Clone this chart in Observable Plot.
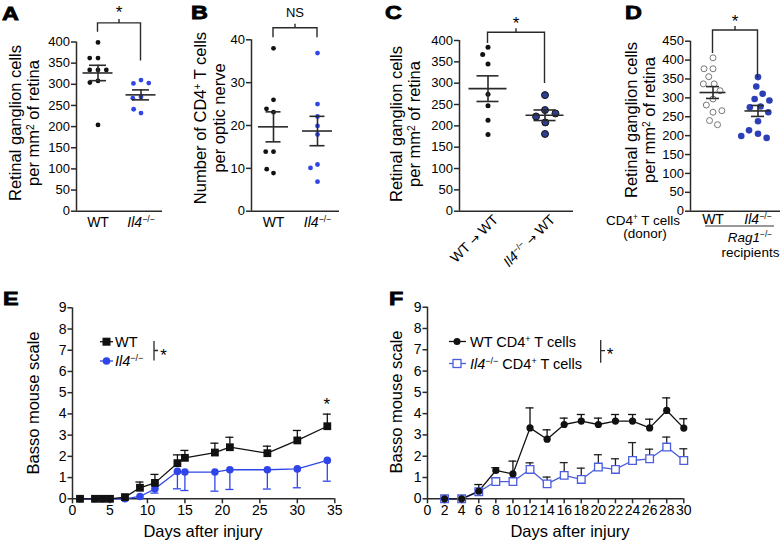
<!DOCTYPE html>
<html><head><meta charset="utf-8">
<script src="https://cdn.jsdelivr.net/npm/d3@7"></script>
<script src="https://cdn.jsdelivr.net/npm/@observablehq/plot@0.6"></script>
<style>
body{margin:0;background:#fff;}
#root{position:relative;width:783px;height:544px;overflow:hidden;font-family:"Liberation Sans",Arial,Helvetica,sans-serif;}
#root svg{position:absolute;}
</style></head><body><div id="root"></div>
<script>
// ---------- DATA ----------
// Panel A: retinal ganglion cells per mm2
const aGroups = ["WT", "Il4"];
const aLabels = ["WT", "_Il4_^−/−^"];
const aWT = [399, 362, 362, 334, 334, 334, 308, 304, 204];
const aIl4 = [310, 302, 303, 270, 267, 232, 241];
const aTicks = [0, 50, 100, 150, 200, 250, 300, 350, 400];
// Panel B: CD4+ T cells per optic nerve
const bWT = [38, 26, 23.1, 23.9, 13.9, 13.9, 8.9, 9.8];
const bIl4 = [36.9, 25, 22.1, 19.9, 17.9, 10.9, 10.1, 6.9];
const bTicks = [0, 10, 20, 30, 40];
// Panel C: chimeras
const cLabels = ["WT → WT", "_Il4_^−/−^ → WT"];
const cWT = [384, 367, 345, 274, 247, 213, 180];
const cIl4 = [272, 237, 222, 229, 208, 181];
// Panel D: Rag1-/- recipients
const dWT = [406, 377, 377, 356, 337, 337, 319, 297, 281, 262, 266, 240, 229];
const dIl4 = [355, 330, 311, 297, 293, 277, 275, 262, 238, 205, 214, 194, 199];
const dTicks = [0, 50, 100, 150, 200, 250, 300, 350, 400, 450];
// Significance brackets (y values in data units): [leg WT, leg Il4, top]
const aBracket = [423, 355, 444];
const bBracket = [40.5, 40.5, 42.7];
const cBracket = [393, 299, 418];
const dBracket = [417.5, 351.4, 478.3];
// Panel E: Basso mouse scale
const eDays = [1, 3, 4, 5, 7, 9, 11, 14, 15, 19, 21, 26, 30, 34];
const eWT = [0, 0, 0, 0, 0.08, 0.52, 0.75, 1.68, 1.93, 2.18, 2.43, 2.15, 2.75, 3.42];
const eWTsem = [0, 0, 0, 0, 0, 0.27, 0.4, 0.39, 0.35, 0.44, 0.47, 0.33, 0.47, 0.57];
const eIl4 = [0, 0, 0, 0, 0, 0.11, 0.47, 1.29, 1.26, 1.26, 1.37, 1.37, 1.41, 1.81];
const eIl4sem = [0, 0, 0, 0, 0, 0, 0.2, 0.82, 0.87, 0.9, 0.93, 0.91, 0.89, 0.98];
const eXTicks = [0, 5, 10, 15, 20, 25, 30, 35];
const eStarDay = 34;
// Panel F: Basso mouse scale after T cell transfer
const fDays = [2, 4, 6, 8, 10, 12, 14, 16, 18, 20, 22, 24, 26, 28, 30];
const fWT = [0, 0, 0.36, 1.33, 1.17, 3.33, 2.8, 3.49, 3.65, 3.49, 3.65, 3.65, 3.33, 4.15, 3.32];
const fWTsem = [0, 0, 0.31, 0.13, 0.6, 0.94, 0.44, 0.3, 0.31, 0.3, 0.31, 0.31, 0.41, 0.59, 0.44];
const fIl4 = [0, 0, 0.33, 0.81, 0.81, 1.38, 0.7, 1.1, 0.91, 1.49, 1.38, 1.8, 1.88, 2.43, 1.8];
const fIl4sem = [0, 0, 0, 0.15, 0, 0.31, 0.32, 0.6, 0.53, 0.58, 0.5, 0.84, 0.45, 0.47, 0.55];
const fXTicks = [0, 2, 4, 6, 8, 10, 12, 14, 16, 18, 20, 22, 24, 26, 28, 30];
const bassoTicks = [0, 1, 2, 3, 4, 5, 6, 7, 8, 9];

// ---------- HELPERS ----------
const FONT = '"Liberation Sans", Arial, Helvetica, sans-serif';
const AX = "#2a2a2a";
const BLUE = "#2f45e8";
const SVGNS = "http://www.w3.org/2000/svg";
const root = document.getElementById("root");

function rich(svg) {
  svg.querySelectorAll("text, tspan").forEach(el => {
    if (el.children.length) return;
    const s = el.textContent;
    if (!/[_^→]/.test(s)) return;
    el.textContent = "";
    for (const part of s.split(/(_[^_]+_|\^[^^]+\^|→)/)) {
      if (!part) continue;
      const t = document.createElementNS(SVGNS, "tspan");
      if (/^_.+_$/.test(part)) { t.setAttribute("font-style", "italic"); t.textContent = part.slice(1, -1); }
      else if (/^\^.+\^$/.test(part)) { t.setAttribute("baseline-shift", "super"); t.setAttribute("font-size", "62%"); t.textContent = part.slice(1, -1); }
      else if (part === "→") { t.setAttribute("font-family", "DejaVu Sans"); t.setAttribute("font-size", "85%"); t.textContent = part; }
      else t.textContent = part;
      el.appendChild(t);
    }
  });
}
function place(svg, left, top) {
  svg.style.left = left + "px"; svg.style.top = top + "px";
  root.appendChild(svg);
  return svg;
}
const baseStyle = {fontFamily: FONT, fontSize: "13px", color: "#000", background: "none", overflow: "visible"};

function scatterPanel(c) {
  const rows = c.groups.flatMap((g, i) => c.values[i].map(v => ({g, v})));
  const stats = c.groups.map((g, i) => {
    const vs = c.values[i], m = d3.mean(vs), se = d3.deviation(vs) / Math.sqrt(vs.length);
    return {g, mean: m, lo: m - se, hi: m + se};
  });
  const fw = (c.width - c.ml - c.mr) / c.groups.length;
  const mi = (fw - c.meanW) / 2, ci = (fw - c.capW) / 2;
  const plot = Plot.plot({
    width: c.width, height: c.height,
    marginLeft: c.ml, marginRight: c.mr, marginTop: c.mt, marginBottom: c.mb,
    style: baseStyle,
    fx: {domain: c.groups, padding: 0, label: null},
    y: {domain: c.yDomain},
    marks: [
      Plot.ruleY([c.yDomain[0]], {stroke: AX, strokeWidth: 1.5}),
      Plot.ruleX([c.groups[0]], {fx: d => d, x: null, y1: () => c.yDomain[0], y2: () => c.yDomain[1], dx: -fw / 2, stroke: AX, strokeWidth: 1.5}),
      Plot.axisY({ticks: c.yTicks, tickSize: 5, tickPadding: 1.5, fontSize: 13, stroke: AX, strokeWidth: 1.5, label: null}),
      Plot.axisFx({anchor: "bottom", tickSize: 0, tickPadding: c.fxPad, fontSize: 14, tickRotate: c.tickRotate || 0,
        dx: c.fxDx || 0, tickFormat: d => c.labels[c.groups.indexOf(d)], label: null}),
      ...c.groups.map((g, i) => Plot.dot(rows.filter(d => d.g === g),
        Plot.dodgeX({anchor: "middle", padding: c.pad}, {fx: "g", y: "v", r: c.dot[i].r, fill: c.dot[i].fill,
          stroke: c.dot[i].stroke || "none", strokeWidth: c.dot[i].sw || 1}))),
      Plot.tickY(stats, {fx: "g", y: "mean", insetLeft: mi, insetRight: mi, stroke: AX, strokeWidth: 1.6}),
      Plot.tickY(stats, {fx: "g", y: "lo", insetLeft: ci, insetRight: ci, stroke: AX, strokeWidth: 1.6}),
      Plot.tickY(stats, {fx: "g", y: "hi", insetLeft: ci, insetRight: ci, stroke: AX, strokeWidth: 1.6}),
      Plot.ruleX(stats, {fx: "g", x: null, y1: "lo", y2: "hi", stroke: AX, strokeWidth: 1.6})
    ]
  });
  rich(plot);
  place(plot, c.left, c.top);
  return {plot, left: c.left, top: c.top};
}

// ---------- PANELS A-D ----------
const pA = scatterPanel({left: 0, top: 0, width: 170, height: 250, ml: 76, mr: 8, mt: 41.5, mb: 39.3,
  groups: aGroups, labels: aLabels, values: [aWT, aIl4], yDomain: [0, 400], yTicks: aTicks,
  fxPad: 6, pad: 3.5, meanW: 30, capW: 17, dot: [{r: 2.4, fill: "#111"}, {r: 2.4, fill: BLUE}]});
const pB = scatterPanel({left: 190, top: 0, width: 160, height: 250, ml: 61, mr: 11, mt: 39.3, mb: 39.3,
  groups: aGroups, labels: aLabels, values: [bWT, bIl4], yDomain: [0, 40], yTicks: bTicks,
  fxPad: 6, pad: 3, meanW: 30, capW: 15, dot: [{r: 2.4, fill: "#111"}, {r: 2.4, fill: BLUE}]});
const pC = scatterPanel({left: 370, top: 0, width: 210, height: 285, ml: 89, mr: 7, mt: 40, mb: 74.3,
  groups: aGroups, labels: cLabels, values: [cWT, cIl4], yDomain: [0, 400], yTicks: aTicks, tickRotate: -45,
  fxPad: 6, fxDx: 8, pad: 4, meanW: 38, capW: 22, dot: [{r: 2.5, fill: "#111"}, {r: 3.5, fill: "#2e3e8f", stroke: "#111", sw: 1}]});
const pD = scatterPanel({left: 570, top: 0, width: 213, height: 270, ml: 120, mr: 3, mt: 40.7, mb: 59.3,
  groups: aGroups, labels: aLabels, values: [dWT, dIl4], yDomain: [0, 450], yTicks: dTicks,
  fxPad: 3, pad: 3, meanW: 26, capW: 13, dot: [{r: 3, fill: "#fff", stroke: "#777", sw: 1}, {r: 3.3, fill: "#2c3fb6"}]});

// ---------- PANEL E ----------
const eRows = eDays.map((x, i) => ({x, wt: eWT[i], wtHi: eWT[i] + eWTsem[i], il: eIl4[i], ilLo: eIl4[i] - eIl4sem[i], wse: eWTsem[i], ise: eIl4sem[i]}));
const plotE = Plot.plot({
  width: 345, height: 264, marginLeft: 72, marginRight: 10.7, marginTop: 27.3, marginBottom: 45.7,
  style: baseStyle,
  x: {domain: [0, 35]}, y: {domain: [0, 9]},
  marks: [
    Plot.ruleY([0], {stroke: AX, strokeWidth: 1.5}),
    Plot.ruleX([0], {stroke: AX, strokeWidth: 1.5}),
    Plot.axisX({ticks: eXTicks, tickSize: 5, tickPadding: 1, fontSize: 14, stroke: AX, strokeWidth: 1.5, label: null}),
    Plot.axisY({ticks: bassoTicks, tickSize: 4.5, tickPadding: 1.5, fontSize: 14, stroke: AX, strokeWidth: 1.5, label: null}),
    Plot.ruleX(eRows.filter(d => d.ise > 0), {x: "x", y1: "il", y2: "ilLo", stroke: BLUE, strokeWidth: 1.3}),
    Plot.ruleY(eRows.filter(d => d.ise > 0), {x1: "x", x2: "x", y: "ilLo", insetLeft: -4, insetRight: -4, stroke: BLUE, strokeWidth: 1.3}),
    Plot.line(eRows, {x: "x", y: "il", stroke: BLUE, strokeWidth: 1.3}),
    Plot.dot(eRows, {x: "x", y: "il", r: 3.8, fill: BLUE}),
    Plot.ruleX(eRows.filter(d => d.wse > 0), {x: "x", y1: "wt", y2: "wtHi", stroke: "#111", strokeWidth: 1.3}),
    Plot.ruleY(eRows.filter(d => d.wse > 0), {x1: "x", x2: "x", y: "wtHi", insetLeft: -4, insetRight: -4, stroke: "#111", strokeWidth: 1.3}),
    Plot.line(eRows, {x: "x", y: "wt", stroke: "#111", strokeWidth: 1.3}),
    Plot.dot(eRows, {x: "x", y: "wt", symbol: "square", r: 4.4, fill: "#111"})
  ]
});
place(plotE, 0, 280);

// ---------- PANEL F ----------
const FBLUE = "#4b5ce0";
const fRows = fDays.map((x, i) => ({x, wt: fWT[i], wtHi: fWT[i] + fWTsem[i], il: fIl4[i], ilHi: fIl4[i] + fIl4sem[i], wse: fWTsem[i], ise: fIl4sem[i]}));
const plotF = Plot.plot({
  width: 393, height: 264, marginLeft: 37, marginRight: 99.7, marginTop: 26.7, marginBottom: 45.7,
  style: baseStyle,
  x: {domain: [0, 30]}, y: {domain: [0, 9]},
  marks: [
    Plot.ruleY([0], {stroke: AX, strokeWidth: 1.5}),
    Plot.ruleX([0], {stroke: AX, strokeWidth: 1.5}),
    Plot.axisX({ticks: fXTicks, tickSize: 5, tickPadding: 1, fontSize: 14, stroke: AX, strokeWidth: 1.5, label: null}),
    Plot.axisY({ticks: bassoTicks, tickSize: 4.5, tickPadding: 1.5, fontSize: 14, stroke: AX, strokeWidth: 1.5, label: null}),
    Plot.ruleX(fRows.filter(d => d.ise > 0), {x: "x", y1: "il", y2: "ilHi", stroke: "#222", strokeWidth: 1.3}),
    Plot.ruleY(fRows.filter(d => d.ise > 0), {x1: "x", x2: "x", y: "ilHi", insetLeft: -4, insetRight: -4, stroke: "#222", strokeWidth: 1.3}),
    Plot.line(fRows, {x: "x", y: "il", stroke: FBLUE, strokeWidth: 1.3}),
    Plot.ruleX(fRows.filter(d => d.wse > 0), {x: "x", y1: "wt", y2: "wtHi", stroke: "#111", strokeWidth: 1.3}),
    Plot.ruleY(fRows.filter(d => d.wse > 0), {x1: "x", x2: "x", y: "wtHi", insetLeft: -4, insetRight: -4, stroke: "#111", strokeWidth: 1.3}),
    Plot.line(fRows, {x: "x", y: "wt", stroke: "#111", strokeWidth: 1.3}),
    Plot.dot(fRows, {x: "x", y: "il", symbol: "square", r: 4.3, fill: "#fff", stroke: FBLUE, strokeWidth: 1.3}),
    Plot.dot(fRows, {x: "x", y: "wt", r: 3.6, fill: "#111"})
  ]
});
place(plotF, 390, 280);

// ---------- OVERLAY: labels, brackets, legends ----------
const ov = d3.select(root).append("svg").attr("width", 783).attr("height", 544)
  .style("left", "0px").style("top", "0px").style("pointer-events", "none")
  .attr("font-family", FONT);

function txt(x, y, s, o = {}) {
  return ov.append("text").attr("x", x).attr("y", y).attr("font-size", o.size || 14)
    .attr("text-anchor", o.anchor || "start").attr("font-weight", o.weight || null)
    .attr("fill", "#000").text(s);
}
function letter(x, y, s) {
  ov.append("text").attr("transform", `translate(${x},${y}) scale(1.3,1)`)
    .attr("font-size", 18).attr("font-weight", 900).attr("stroke", "#000").attr("stroke-width", 0.8)
    .attr("fill", "#000").text(s);
}
function ylab(b0, cy, lines, baselines, size = 16.5) {
  const t = ov.append("text").attr("transform", `translate(${b0},${cy}) rotate(-90)`)
    .attr("text-anchor", "middle").attr("font-size", size).attr("fill", "#000");
  lines.forEach((l, i) => t.append("tspan").attr("x", 0).attr("y", baselines[i] - b0).text(l));
}
function bracket(p, br, label, labelSize, labelDy) {
  const fx = p.plot.scale("fx"), y = p.plot.scale("y");
  const x1 = p.left + fx.apply(aGroups[0]) + fx.bandwidth / 2;
  const x2 = p.left + fx.apply(aGroups[1]) + fx.bandwidth / 2;
  const yl1 = p.top + y.apply(br[0]), yl2 = p.top + y.apply(br[1]), yt = p.top + y.apply(br[2]);
  const xm = (x1 + x2) / 2;
  ov.append("path").attr("d", `M${x1},${yl1}V${yt}H${x2}V${yl2}M${xm},${yt}V${yt - 4}`)
    .attr("fill", "none").attr("stroke", AX).attr("stroke-width", 1.4);
  txt(xm, yt + labelDy, label, {size: labelSize, anchor: "middle"});
}

// panel letters
letter(2, 20, "A"); letter(191, 18.5, "B"); letter(385, 18.5, "C"); letter(625, 18.5, "D");
letter(3, 305, "E"); letter(389, 305, "F");

// y axis titles
ylab(21, 123, ["Retinal ganglion cells", "per mm^2^ of retina"], [21, 39]);
ylab(206, 118, ["Number of CD4^+^ T cells", "per optic nerve"], [206, 224.5]);
ylab(401.5, 124, ["Retinal ganglion cells", "per mm^2^ of retina"], [401.5, 420]);
ylab(636.5, 120, ["Retinal ganglion cells", "per mm^2^ of retina"], [636.5, 655]);
ylab(38.5, 403, ["Basso mouse scale"], [38.5]);
ylab(401.5, 402, ["Basso mouse scale"], [401.5]);

// x axis titles
txt(203, 537, "Days after injury", {size: 16.5, anchor: "middle"});
txt(570, 537, "Days after injury", {size: 16.5, anchor: "middle"});

// brackets
bracket(pA, aBracket, "*", 17, -4.5);
bracket(pB, bBracket, "NS", 13, -10.4);
bracket(pC, cBracket, "*", 17, -3.5);
bracket(pD, dBracket, "*", 17, -3.5);

// panel D captions
txt(643, 224.5, "CD4^+^ T cells", {anchor: "middle", size: 13.5});
txt(645, 238, "(donor)", {anchor: "middle", size: 13.5});
ov.append("line").attr("x1", 705).attr("x2", 774).attr("y1", 226).attr("y2", 226).attr("stroke", "#333").attr("stroke-width", 1);
txt(750, 242, "_Rag1_^−/−^", {anchor: "middle", size: 13.5});
txt(750.5, 256.5, "recipients", {anchor: "middle", size: 13.5});

// panel E star above last point
{
  const xs = plotE.scale("x"), ys = plotE.scale("y");
  const i = eDays.indexOf(eStarDay);
  txt(xs.apply(eStarDay), 280 + ys.apply(eWT[i] + eWTsem[i]) - 4, "*", {size: 17, anchor: "middle"});
}

// legend E
ov.append("line").attr("x1", 100).attr("x2", 113).attr("y1", 341.7).attr("y2", 341.7).attr("stroke", "#111").attr("stroke-width", 1.3);
ov.append("rect").attr("x", 102.5).attr("y", 337.7).attr("width", 8).attr("height", 8).attr("fill", "#111");
txt(115, 346.7, "WT", {size: 14.5});
ov.append("line").attr("x1", 100).attr("x2", 113).attr("y1", 361).attr("y2", 361).attr("stroke", BLUE).attr("stroke-width", 1.3);
ov.append("circle").attr("cx", 106.5).attr("cy", 361).attr("r", 3.8).attr("fill", BLUE);
txt(115, 366, "_Il4_^−/−^", {size: 14.5});
ov.append("path").attr("d", "M154,341V360.5M154,350.5H158").attr("stroke", AX).attr("stroke-width", 1.3).attr("fill", "none");
txt(163.5, 360.5, "*", {size: 17, anchor: "middle"});

// legend F
ov.append("line").attr("x1", 449).attr("x2", 466).attr("y1", 341.5).attr("y2", 341.5).attr("stroke", "#111").attr("stroke-width", 1.3);
ov.append("circle").attr("cx", 457).attr("cy", 341.5).attr("r", 3.5).attr("fill", "#111");
txt(470, 346.5, "WT CD4^+^ T cells", {size: 14.5});
ov.append("line").attr("x1", 449).attr("x2", 466).attr("y1", 363.5).attr("y2", 363.5).attr("stroke", FBLUE).attr("stroke-width", 1.3);
ov.append("rect").attr("x", 453).attr("y", 359.5).attr("width", 8).attr("height", 8).attr("fill", "#fff").attr("stroke", FBLUE).attr("stroke-width", 1.3);
txt(470, 368.5, "_Il4_^−/−^ CD4^+^ T cells", {size: 14.5});
ov.append("path").attr("d", "M600.7,340V362.7M600.7,350.7H605").attr("stroke", AX).attr("stroke-width", 1.3).attr("fill", "none");
txt(610, 359.5, "*", {size: 17, anchor: "middle"});

rich(ov.node());
</script></body></html>
